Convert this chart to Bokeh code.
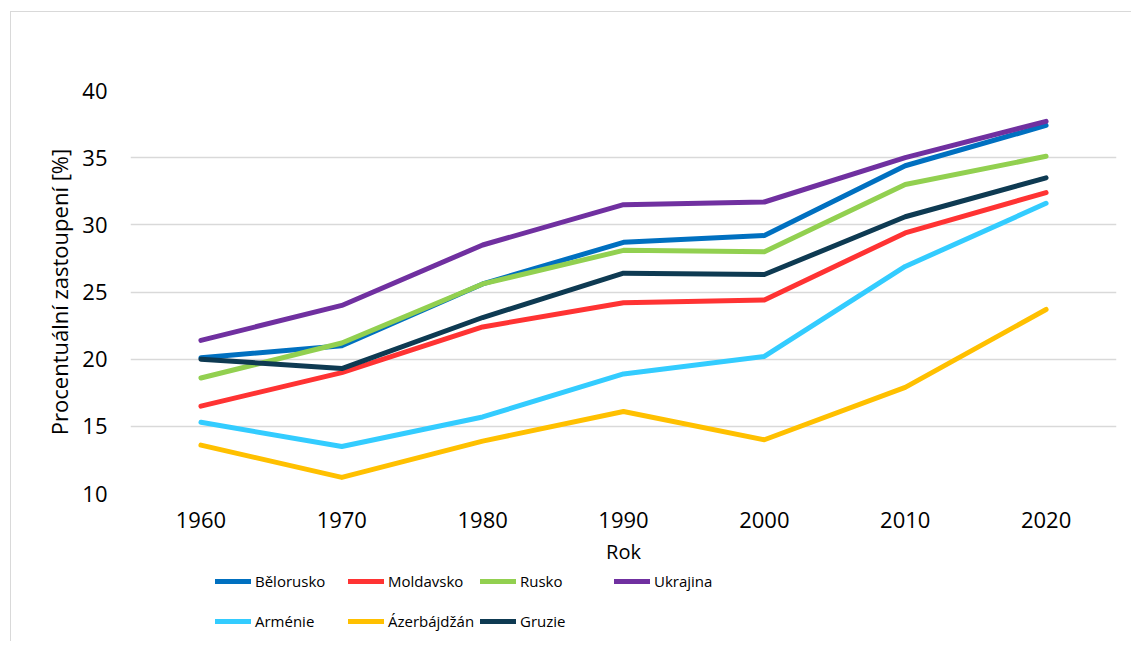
from bokeh.plotting import figure
from bokeh.layouts import column
from bokeh.models import FactorRange, FixedTicker, Range1d, Legend, LegendItem, ColumnDataSource
from bokeh.embed import file_html
from bokeh.resources import INLINE

years = ["1960", "1970", "1980", "1990", "2000", "2010", "2020"]

belorusko = [20.1, 21.0, 25.6, 28.7, 29.2, 34.4, 37.4]
moldavsko = [16.5, 19.0, 22.4, 24.2, 24.4, 29.4, 32.4]
rusko = [18.6, 21.2, 25.6, 28.1, 28.0, 33.0, 35.1]
ukrajina = [21.4, 24.0, 28.5, 31.5, 31.7, 35.0, 37.7]
armenie = [15.3, 13.5, 15.7, 18.9, 20.2, 26.9, 31.6]
azerbajdzan = [13.6, 11.2, 13.9, 16.1, 14.0, 17.9, 23.7]
gruzie = [20.0, 19.3, 23.1, 26.4, 26.3, 30.6, 33.5]

names = ["Bělorusko", "Moldavsko", "Rusko", "Ukrajina", "Arménie", "Ázerbájdžán", "Gruzie"]
series = [belorusko, moldavsko, rusko, ukrajina, armenie, azerbajdzan, gruzie]
colors = ["#0070C0", "#FF3333", "#92D050", "#7030A0", "#33CCFF", "#FFC000", "#0E3A52"]

y_ticks = [10, 15, 20, 25, 30, 35, 40]

FONT = "Open Sans"

# ---- main chart ----
p = figure(
    width=1120, height=559,
    x_range=FactorRange(*years, range_padding=0),
    y_range=Range1d(10, 40),
    output_backend="svg", toolbar_location=None,
    min_border_left=119, min_border_right=15, min_border_top=78, min_border_bottom=78,
)
p.outline_line_color = None
p.background_fill_color = "white"
p.border_fill_color = "white"

p.xgrid.grid_line_color = None
p.ygrid.grid_line_color = "#d9d9d9"
p.ygrid.grid_line_width = 1.5
p.yaxis.ticker = FixedTicker(ticks=y_ticks)

for ax in (p.xaxis[0], p.yaxis[0]):
    ax.axis_line_color = None
    ax.major_tick_line_color = None
    ax.minor_tick_line_color = None
    ax.major_label_text_font = FONT
    ax.major_label_text_font_size = "22px"
    ax.major_label_text_color = "#000000"
    ax.axis_label_text_color = "#000000"
    ax.axis_label_text_font = FONT
    ax.axis_label_text_font_style = "normal"

p.xaxis.major_label_standoff = 12
p.yaxis.major_label_standoff = 17
p.xaxis.axis_label = "Rok"
p.xaxis.axis_label_text_font_size = "20px"
p.xaxis.axis_label_standoff = 7
p.yaxis.axis_label = "Procentuální zastoupení [%]"
p.yaxis.axis_label_text_font_size = "22px"
p.yaxis.axis_label_standoff = 5

sources = []
for name, vals, col in zip(names, series, colors):
    src = ColumnDataSource(dict(x=years, y=vals))
    sources.append(src)
    p.line("x", "y", source=src, line_color=col, line_width=5,
           line_cap="round", line_join="round")

# ---- legend strip (its frame is aligned with the chart's frame) ----
lf = figure(
    width=1120, height=70,
    x_range=FactorRange(*years, range_padding=0), y_range=Range1d(0, 1),
    x_axis_type=None, y_axis_type=None,
    output_backend="svg", toolbar_location=None,
    min_border_left=119, min_border_right=15, min_border_top=0, min_border_bottom=0,
)
lf.outline_line_color = None
lf.xgrid.visible = False
lf.ygrid.visible = False
lf.border_fill_color = "white"

key_renderers = []
for src, col in zip(sources, colors):
    # same data; it lies outside this strip's y range, so only the legend keys show
    r = lf.line("x", "y", source=src, line_color=col, line_width=5, line_cap="round")
    key_renderers.append(r)

columns = [[0, 4], [1, 5], [2, 6], [3]]
col_x = [85, 218, 350, 484]
for idxs, vx in zip(columns, col_x):
    items = [LegendItem(label=names[i], renderers=[key_renderers[i]]) for i in idxs]
    h = 20 * len(idxs) + 20 * (len(idxs) - 1)
    leg = Legend(items=items, location=(vx, 70 - h), orientation="vertical",
                 padding=0, margin=0, spacing=20, glyph_width=36, glyph_height=20,
                 label_height=20, label_standoff=4,
                 label_text_font=FONT, label_text_font_size="15px",
                 label_text_color="#000000",
                 border_line_color=None, background_fill_alpha=0)
    lf.add_layout(leg, "center")

layout = column(p, lf, spacing=0,
                styles={"margin-left": "10px", "margin-top": "11px",
                        "border-left": "1px solid #d9d9d9", "border-top": "1px solid #d9d9d9"})

open("out.html", "w").write(file_html(layout, INLINE))
